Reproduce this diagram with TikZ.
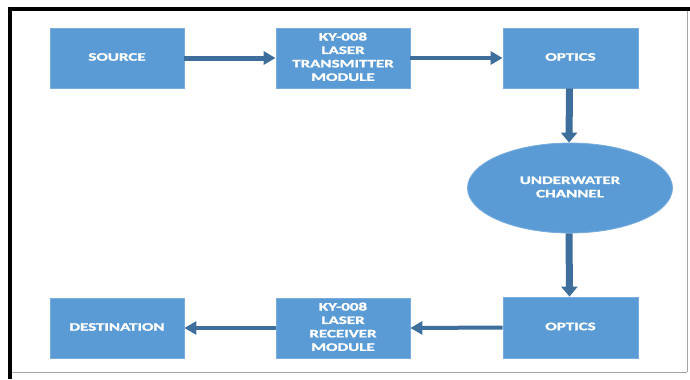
\documentclass[tikz,border=0pt]{standalone}
\usepackage{fontspec}
\setmainfont{Carlito}[BoldFeatures={FakeBold=1.2}]
\usetikzlibrary{arrows.meta,shapes.geometric}
\definecolor{boxblue}{RGB}{91,155,213}
\definecolor{boxedge}{RGB}{120,172,222}
\definecolor{arrblue}{RGB}{62,110,155}
\newcommand{\blocktext}[1]{\scalebox{1.48}[1]{\fontsize{11.5}{13.5}\selectfont\bfseries\begin{tabular}{@{}c@{}}#1\end{tabular}}}
\tikzset{
  blk/.style={rectangle, fill=boxblue, draw=boxedge, line width=0.8bp, minimum width=134bp, minimum height=60bp, inner sep=0pt, text=white},
  oval/.style={ellipse, fill=boxblue, draw=boxedge, line width=0.8bp, minimum width=205bp, minimum height=90bp, inner sep=0pt, text=white},
  hconn/.style={draw=arrblue, line width=5bp, -{Triangle[length=12bp,width=13bp]}},
  vconn/.style={draw=arrblue, line width=7bp, -{Triangle[length=10bp,width=16bp]}},
  frameblack/.style={draw=black, line width=3.8bp},
  framegray/.style={draw=black!35, line width=0.8bp}
}
\begin{document}
\begin{tikzpicture}[x=1bp,y=-1bp]
\useasboundingbox (0,0) rectangle (690,379);
% frame
\draw[frameblack] (8,8.7) -- (690,8.7);
\draw[frameblack] (10,7) -- (10,379);
\draw[framegray] (687,11) -- (687,372);
\draw[framegray] (12,372) -- (687,372);
% nodes
\node[blk] (source) at (117,58) {\blocktext{SOURCE}};
\node[blk] (tx) at (343,58) {\blocktext{KY-008\\LASER\\TRANSMITTER\\MODULE}};
\node[blk, minimum width=135bp] (opt1) at (570.5,58) {\blocktext{OPTICS}};
\node[oval] (chan) at (570,188) {\blocktext{UNDERWATER\\CHANNEL}};
\node[blk, minimum width=135bp, minimum height=61bp] (opt2) at (570.5,327.5) {\blocktext{OPTICS}};
\node[blk] (rx) at (343,328) {\blocktext{KY-008\\LASER\\RECEIVER\\MODULE}};
\node[blk] (dest) at (117,328) {\blocktext{DESTINATION}};
% connectors
\draw[hconn] (source.east) -- (tx.west);
\draw[hconn, line width=4bp] (tx.east) -- (opt1.west);
\draw[vconn] ([xshift=-1bp]opt1.south) -- ([xshift=-1bp]chan.north);
\draw[vconn] ([xshift=-1bp]chan.south) -- ([xshift=-1bp]opt2.north);
\draw[hconn, line width=4bp] (opt2.west) -- (rx.east);
\draw[hconn, line width=4bp] (rx.west) -- (dest.east);
\end{tikzpicture}
\end{document}
